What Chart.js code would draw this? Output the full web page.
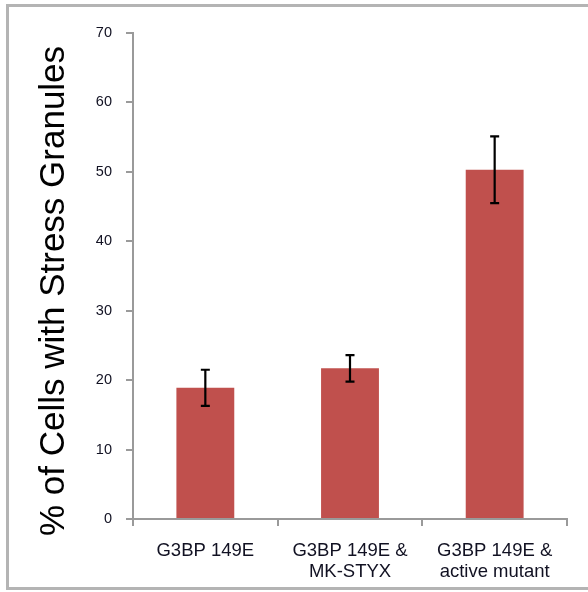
<!DOCTYPE html>
<html>
<head>
<meta charset="utf-8">
<script src="https://cdn.jsdelivr.net/npm/chart.js@4/dist/chart.umd.min.js"></script>
<style>
  html, body { margin: 0; padding: 0; background: #fff; overflow: hidden; }
  #wrap { position: relative; width: 588px; height: 592px; }
  #frame { position: absolute; left: 6px; top: 4px; width: 700px; height: 586px;
           border: 3px solid #b4b4b4; box-sizing: border-box; pointer-events: none; }
  canvas { position: absolute; left: 0; top: 0; }
</style>
</head>
<body>
<div id="wrap">
  <canvas id="c" width="588" height="592"></canvas>
  <div id="frame"></div>
</div>
<script>
const categories = [['G3BP 149E'], ['G3BP 149E &', 'MK-STYX'], ['G3BP 149E &', 'active mutant']];
const values = [18.9, 21.7, 50.3];
const errors = [2.6, 1.9, 4.8];
const yTitle = '% of Cells with Stress Granules';

const FONT = "'Liberation Sans', Arial, sans-serif";

const errorBars = {
  id: 'errorBars',
  afterDatasetsDraw(chart) {
    const ctx = chart.ctx;
    const y = chart.scales.y;
    const meta = chart.getDatasetMeta(0);
    ctx.save();
    ctx.strokeStyle = '#000';
    ctx.lineWidth = 2.2;
    meta.data.forEach((bar, i) => {
      const x = bar.x;
      const yt = y.getPixelForValue(values[i] + errors[i]);
      const yb = y.getPixelForValue(values[i] - errors[i]);
      ctx.beginPath();
      ctx.moveTo(x, yt); ctx.lineTo(x, yb);
      ctx.moveTo(x - 4.5, yt); ctx.lineTo(x + 4.5, yt);
      ctx.moveTo(x - 4.5, yb); ctx.lineTo(x + 4.5, yb);
      ctx.stroke();
    });
    ctx.restore();
  }
};

const yTitlePlugin = {
  id: 'yTitlePlugin',
  afterDraw(chart) {
    const ctx = chart.ctx;
    ctx.save();
    ctx.translate(54, 291);
    ctx.rotate(-Math.PI / 2);
    ctx.font = '35px ' + FONT;
    ctx.fillStyle = '#000';
    ctx.textAlign = 'center';
    ctx.textBaseline = 'middle';
    ctx.fillText(yTitle, 0, 0);
    ctx.restore();
  }
};

new Chart(document.getElementById('c'), {
  type: 'bar',
  data: {
    labels: categories,
    datasets: [{
      data: values,
      backgroundColor: '#C0504D',
      borderWidth: 0,
      barPercentage: 0.4,
      categoryPercentage: 1.0
    }]
  },
  options: {
    responsive: false,
    animation: false,
    devicePixelRatio: 1,
    layout: { padding: { left: 0, top: 33, right: 21, bottom: 0 } },
    plugins: { legend: { display: false }, tooltip: { enabled: false }, title: { display: false } },
    scales: {
      x: {
        offset: true,
        grid: { display: true, offset: true, drawOnChartArea: false, drawTicks: true, tickLength: 7, color: '#9a9a9a', lineWidth: 2 },
        border: { display: true, color: '#9a9a9a', width: 2 },
        ticks: { color: '#111122', font: { family: FONT, size: 18.5, lineHeight: 1.1 }, padding: 15, maxRotation: 0, minRotation: 0, autoSkip: false },
        afterFit(scale) { scale.height = 73; }
      },
      y: {
        min: 0, max: 70,
        grid: { display: true, drawOnChartArea: false, drawTicks: true, tickLength: 7, color: '#9a9a9a', lineWidth: 2 },
        border: { display: true, color: '#9a9a9a', width: 2 },
        ticks: { stepSize: 10, color: '#111122', font: { family: FONT, size: 14.5 }, padding: 14 },
        title: { display: false },
        afterFit(scale) { scale.width = 133; }
      }
    }
  },
  plugins: [errorBars, yTitlePlugin]
});
</script>
</body>
</html>
